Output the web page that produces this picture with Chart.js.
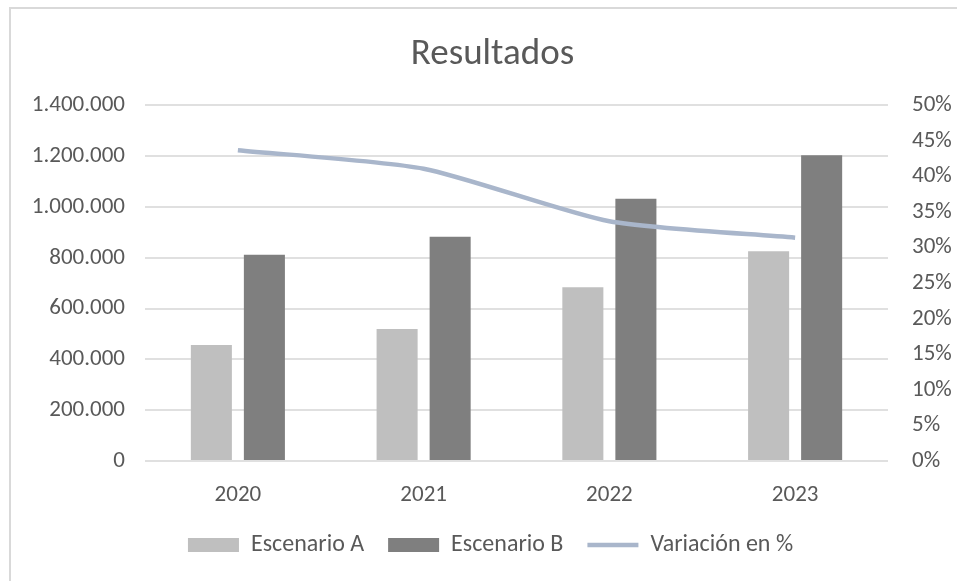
<!DOCTYPE html>
<html>
<head>
<meta charset="utf-8">
<script src="https://cdn.jsdelivr.net/npm/chart.js@4/dist/chart.umd.min.js"></script>
<style>
  html, body { margin: 0; padding: 0; background: #fff; overflow: hidden; }
  #frame {
    position: absolute; left: 9px; top: 7px; width: 1000px; height: 640px;
    border-left: 2px solid #d9d9d9; border-top: 2px solid #d9d9d9;
  }
  #wrap { position: absolute; left: 0; top: 0; width: 957px; height: 581px; }
</style>
</head>
<body>
<div id="frame"></div>
<div id="wrap"><canvas id="chart-results"></canvas></div>
<script>
// Chart data
const years = ['2020', '2021', '2022', '2023'];
const escenarioA = [457000, 520000, 684000, 826000];
const escenarioB = [812000, 883000, 1032000, 1204000];
const variacion = [0.437, 0.411, 0.337, 0.314];

const textColor = '#595959';
const fontFamily = "Carlito, Lato, sans-serif";

Chart.defaults.font.family = fontFamily;
Chart.defaults.color = textColor;

// Spanish style thousands separator
function formatMiles(v) {
  return String(Math.round(v)).replace(/\B(?=(\d{3})+(?!\d))/g, '.');
}

// Nudge title and legend to the right like the original
const boxShift = {
  id: 'boxShift',
  afterLayout(chart) {
    if (chart.legend) {
      chart.legend.left += 12;
      chart.legend.right += 12;
    }
    if (chart.titleBlock) {
      chart.titleBlock.left += 14;
      chart.titleBlock.right += 14;
    }
  }
};

const ctx = document.getElementById('chart-results').getContext('2d');

new Chart(ctx, {
  type: 'bar',
  data: {
    labels: years,
    datasets: [
      {
        label: 'Escenario A',
        data: escenarioA,
        backgroundColor: '#bfbfbf',
        borderWidth: 0,
        yAxisID: 'y',
        order: 1
      },
      {
        label: 'Escenario B',
        data: escenarioB,
        backgroundColor: '#7f7f7f',
        borderWidth: 0,
        yAxisID: 'y',
        order: 1
      },
      {
        type: 'line',
        label: 'Variación en %',
        data: variacion,
        borderColor: '#a9b6cb',
        backgroundColor: '#a9b6cb',
        borderWidth: 4.5,
        pointRadius: 0,
        tension: 0.22,
        fill: false,
        yAxisID: 'y1',
        order: 0
      }
    ]
  },
  options: {
    responsive: true,
    maintainAspectRatio: false,
    animation: false,
    datasets: {
      bar: {
        categoryPercentage: 0.571,
        barPercentage: 0.774
      }
    },
    layout: {
      padding: { left: 0, right: 0, top: 0, bottom: 14 }
    },
    plugins: {
      title: {
        display: true,
        text: 'Resultados',
        color: textColor,
        font: { size: 37, weight: 'normal' },
        padding: { top: 33, bottom: 28 }
      },
      legend: {
        position: 'bottom',
        labels: {
          color: textColor,
          font: { size: 24 },
          usePointStyle: true,
          pointStyleWidth: 51,
          boxHeight: 14,
          padding: 24,
          sort: (a, b) => a.datasetIndex - b.datasetIndex,
          generateLabels(chart) {
            const items = Chart.defaults.plugins.legend.labels.generateLabels(chart);
            items.forEach(it => {
              it.pointStyle = it.datasetIndex === 2 ? 'line' : 'rect';
            });
            return items;
          }
        }
      },
      tooltip: { enabled: false }
    },
    scales: {
      x: {
        grid: { display: false },
        border: { display: false },
        ticks: {
          color: textColor,
          font: { size: 23 },
          padding: 12
        },
        afterFit(scale) { scale.height = 48; }
      },
      y: {
        position: 'left',
        min: 0,
        max: 1400000,
        grid: {
          color: '#e0e0e0',
          lineWidth: 2,
          drawTicks: false
        },
        border: { display: false },
        ticks: {
          stepSize: 200000,
          color: textColor,
          font: { size: 23 },
          padding: 20,
          callback: v => formatMiles(v)
        },
        afterFit(scale) { scale.width = 145; }
      },
      y1: {
        position: 'right',
        min: 0,
        max: 0.5,
        grid: { display: false, drawTicks: false },
        border: { display: false },
        ticks: {
          stepSize: 0.05,
          color: textColor,
          font: { size: 23 },
          padding: 24,
          callback: v => Math.round(v * 100) + '%'
        },
        afterFit(scale) { scale.width = 69; }
      }
    }
  },
  plugins: [boxShift]
});
</script>
</body>
</html>
